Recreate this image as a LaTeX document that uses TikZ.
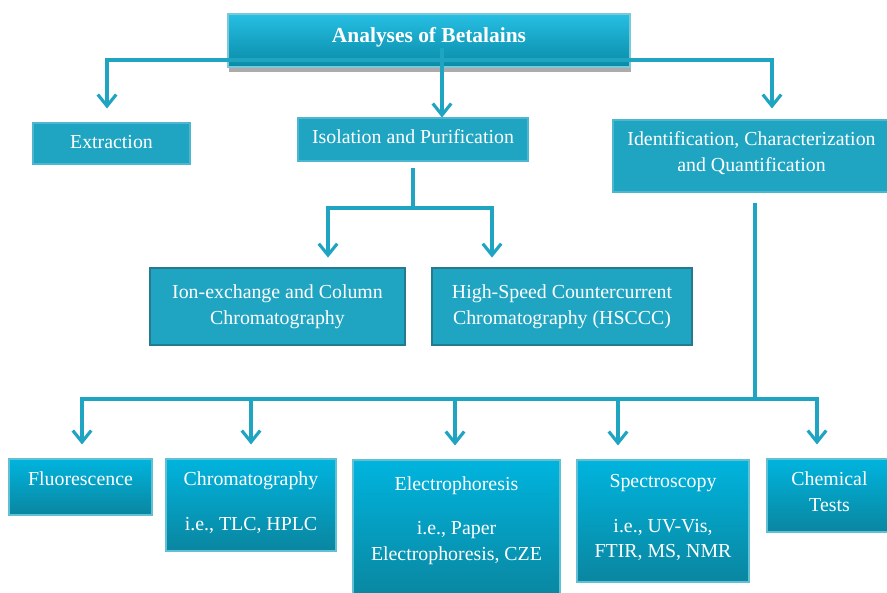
\documentclass[tikz,border=0pt]{standalone}
\usepackage{fontspec}
\setmainfont{Liberation Serif}
\usepackage{tikz}
\usetikzlibrary{arrows.meta, shadows}

\definecolor{teal1}{RGB}{31,165,194}
\definecolor{teal2}{RGB}{0,180,222}
\definecolor{teal3}{RGB}{10,134,160}
\definecolor{tealedge}{RGB}{38,122,142}

\begin{document}
\begin{tikzpicture}[
      box/.style={rectangle, fill=teal1, draw=teal1!80!white, line width=0.6pt, align=center, text=white, font=\fontsize{11.3}{14.7}\selectfont},
      framed/.style={box, draw=tealedge, line width=1.6pt},
      method/.style={box, draw=teal1!70!white, top color=teal2, bottom color=teal3},
      head/.style={box, draw=teal1!60!white, top color=teal2!85!white, bottom color=teal3!90!teal2, font=\fontsize{12.2}{14}\selectfont\bfseries, drop shadow={shadow xshift=0.02cm, shadow yshift=-0.1cm, fill=black!60, opacity=0.55}},
      link/.style={draw=teal1, line width=1.8pt, line join=miter},
      arrow/.style={link, -{Straight Barb[length=6.5pt, width=10.5pt]}},
      arrowpair/.style={link, {Straight Barb[length=6.5pt, width=10.5pt]}-{Straight Barb[length=6.5pt, width=10.5pt]}}
  ]
      \useasboundingbox (0,0) rectangle (17.74,11.86);

      % Main heading
      \node[head, minimum width=8.04cm, minimum height=1.06cm, text depth=6.7pt] (title) at (8.58, 11.05) {Analyses of Betalains};

      % First level
      \node[box, minimum width=3.14cm, minimum height=0.82cm, text depth=1.5pt] (extr) at (2.23, 8.99) {Extraction};
      \node[box, minimum width=4.60cm, minimum height=0.86cm, text depth=3.1pt] (iso) at (8.26, 9.07) {Isolation and Purification};
      \node[box, minimum width=5.54cm, minimum height=1.44cm, text depth=5.2pt] (ident) at (15.03, 8.74) {Identification, Characterization\\ and Quantification};

      % Isolation methods
      \node[framed, minimum width=5.10cm, minimum height=1.54cm, text depth=2.2pt] (ion) at (5.55, 5.73) {Ion-exchange and Column\\ Chromatography};
      \node[framed, minimum width=5.20cm, minimum height=1.54cm, text depth=2.2pt] (hsccc) at (11.24, 5.73) {High-Speed Countercurrent\\ Chromatography (HSCCC)};

      % Identification methods
      \node[method, minimum width=2.86cm, minimum height=1.12cm, text depth=9.5pt] (fluo) at (1.61, 2.12) {Fluorescence};
      \node[method, minimum width=3.40cm, minimum height=1.84cm, text depth=4.1pt] (chrom) at (5.02, 1.76) {Chromatography\\[10.8pt] i.e., TLC, HPLC};
      \node[method, minimum width=4.14cm, minimum height=2.76cm, text depth=11.5pt] (elec) at (9.13, 1.28) {Electrophoresis\\[10.3pt] i.e., Paper\\ Electrophoresis, CZE};
      \node[method, minimum width=3.44cm, minimum height=2.44cm, text depth=5.6pt] (spec) at (13.26, 1.44) {Spectroscopy\\[10.8pt] i.e., UV-Vis,\\ FTIR, MS, NMR};
      \node[method, minimum width=2.50cm, minimum height=1.46cm, text depth=4.2pt] (chem) at (16.59, 1.95) {Chemical\\ Tests};

      % Top branches
      \coordinate (stem) at (8.84, 10.90);
      \coordinate (busL) at (2.14, 10.66);
      \coordinate (busR) at (15.44, 10.66);
      \draw[arrowpair, shorten <=0.28cm, shorten >=0.22cm] (busL |- extr.north) -- (busL) -- (busR) -- (busR |- ident.north);
      \draw[arrow] (stem) -- (stem |- iso.north);

      % Isolation branches
      \coordinate (isoL) at (6.56, 7.70);
      \coordinate (isoR) at (9.84, 7.70);
      \draw[link, shorten <=0.12cm] (iso.south) -- (iso.south |- isoL);
      \draw[arrowpair, shorten <=0.18cm, shorten >=0.18cm] (isoL |- ion.north) -- (isoL) -- (isoR) -- (isoR |- hsccc.north);

      % Identification branches
      \coordinate (hub) at (15.10, 3.88);
      \coordinate (b1) at (1.64, 3.88);
      \coordinate (b2) at (5.02, 3.88);
      \coordinate (b3) at (9.10, 3.88);
      \coordinate (b4) at (12.36, 3.88);
      \coordinate (b5) at (16.34, 3.88);
      \draw[link, shorten <=0.2cm] (hub |- ident.south) -- (hub);
      \draw[arrowpair, shorten <=0.28cm, shorten >=0.28cm] (b1 |- fluo.north) -- (b1) -- (b5) -- (b5 |- chem.north);
      \draw[arrow, shorten >=0.28cm] (b2) -- (b2 |- chrom.north);
      \draw[arrow, shorten >=0.28cm] (b3) -- (b3 |- elec.north);
      \draw[arrow, shorten >=0.28cm] (b4) -- (b4 |- spec.north);

  \end{tikzpicture}
\end{document}
